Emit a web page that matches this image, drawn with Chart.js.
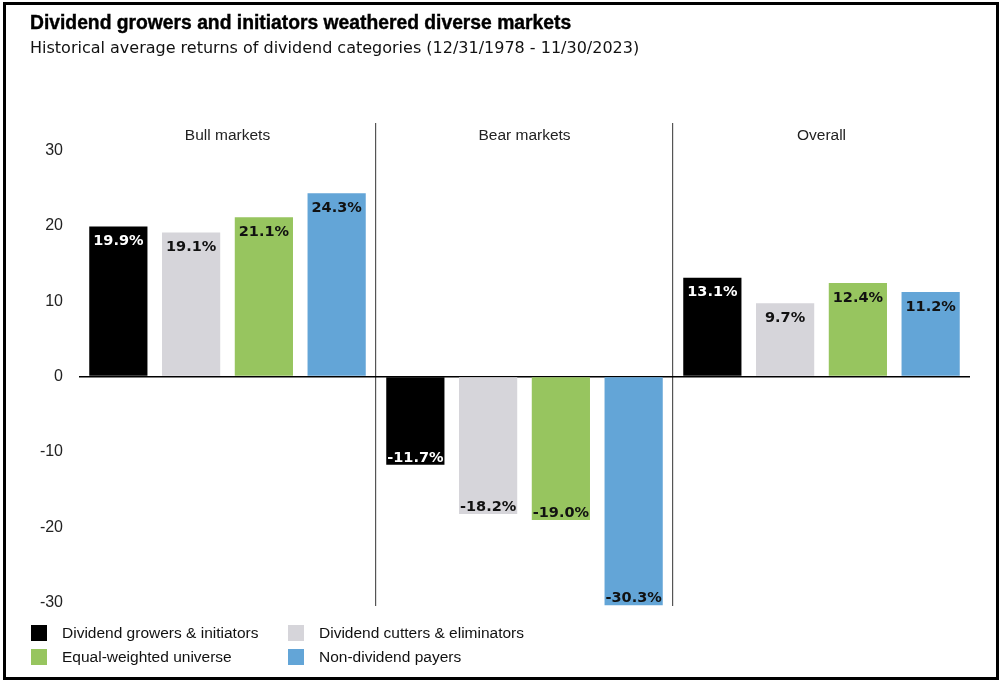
<!DOCTYPE html>
<html>
<head>
<meta charset="utf-8">
<script src="https://cdn.jsdelivr.net/npm/chart.js@4.4.1/dist/chart.umd.min.js"></script>
<style>
    body { margin: 0; background: #fff; font-family: "Liberation Sans", Arial, sans-serif; }
    #frame { position: absolute; left: 3px; top: 2px; width: 990px; height: 672px; border: 3px solid #000; }
    #titulo { position: absolute; left: 30px; top: 12px; font-size: 19.3px; font-weight: bold; color: #000; -webkit-text-stroke: 0.4px #000; }
    #subtitulo { position: absolute; left: 30px; top: 38px; font-size: 16px; font-family: "DejaVu Sans", sans-serif; color: #111; }
    #wrap { position: absolute; left: 0; top: 0; width: 1002px; height: 684px; }
    .leyenda { position: absolute; font-size: 15.5px; color: #111; }
    .leyenda span { position: absolute; left: 0; top: 1px; width: 16px; height: 16px; }
    .leyenda div { position: absolute; left: 31px; top: 0; white-space: nowrap; }
</style>
</head>
<body>
<div id="wrap"><canvas id="grafica"></canvas></div>
<div id="frame"></div>
<div id="titulo">Dividend growers and initiators weathered diverse markets</div>
<div id="subtitulo">Historical average returns of dividend categories (12/31/1978 - 11/30/2023)</div>
<div id="leyenda"></div>
<script>
"use strict"

const categorias = ["Bull markets", "Bear markets", "Overall"];
const series = ["Dividend growers & initiators", "Dividend cutters & eliminators", "Equal-weighted universe", "Non-dividend payers"];
const crecientes = [19.9, -11.7, 13.1];
const recortadores = [19.1, -18.2, 9.7];
const universo = [21.1, -19.0, 12.4];
const sinDividendo = [24.3, -30.3, 11.2];
const ticksY = [-30, -20, -10, 0, 10, 20, 30];

const colores = ["#000000", "#d6d5da", "#97c55f", "#63a5d7"];
const valores = [crecientes, recortadores, universo, sinDividendo];

// leyenda en html
const posLeyenda = [[31, 624], [288, 624], [31, 648], [288, 648]];
let leyendaHtml = "";
series.forEach((nombre, i) => {
    leyendaHtml += '<div class="leyenda" style="left:' + posLeyenda[i][0] + 'px;top:' + posLeyenda[i][1] + 'px">' +
        '<span style="background:' + colores[i] + '"></span><div>' + nombre + '</div></div>';
});
document.getElementById("leyenda").innerHTML = leyendaHtml;

const etiquetas = {
    id: "etiquetas",
    afterDatasetsDraw(chart) {
        let ctx = chart.ctx;
        ctx.save();
        ctx.font = "bold 14.5px 'DejaVu Sans', sans-serif";
        ctx.textAlign = "center";
        ctx.textBaseline = "middle";
        chart.data.datasets.forEach((ds, i) => {
            let meta = chart.getDatasetMeta(i);
            meta.data.forEach((barra, j) => {
                let v = ds.data[j];
                let y = v >= 0 ? barra.y + 15 : barra.y - 7;
                ctx.fillStyle = i == 0 ? "#ffffff" : "#111111";
                ctx.fillText(v.toFixed(1) + "%", barra.x, y);
            });
        });
        // nombres de grupo
        ctx.font = "15.5px 'Liberation Sans', sans-serif";
        ctx.fillStyle = "#222";
        let x = chart.scales.x;
        categorias.forEach((c, j) => {
            ctx.fillText(c, x.getPixelForValue(j), chart.chartArea.top + 13);
        });
        ctx.restore();
    }
};

let ctx = document.getElementById("grafica").getContext("2d");

new Chart(ctx, {
    type: "bar",
    data: {
        labels: categorias,
        datasets: series.map((nombre, i) => ({
            label: nombre,
            data: valores[i],
            backgroundColor: colores[i],
            categoryPercentage: 0.98,
            barPercentage: 0.8
        }))
    },
    options: {
        responsive: true,
        maintainAspectRatio: false,
        animation: false,
        layout: { padding: { top: 123, bottom: 78, right: 32, left: 0 } },
        plugins: { legend: { display: false }, tooltip: { enabled: false } },
        scales: {
            x: {
                ticks: { display: false },
                border: { display: false },
                grid: {
                    drawTicks: false,
                    lineWidth: 1.2,
                    color: c => (c.index === 1 || c.index === 2) ? "#555555" : "transparent"
                }
            },
            y: {
                min: -30.4,
                max: 33.6,
                afterBuildTicks: eje => { eje.ticks = ticksY.map(v => ({ value: v })); },
                afterFit: eje => { eje.width = 79; },
                border: { display: false },
                ticks: {
                    padding: 16,
                    color: "#222",
                    font: { size: 16, family: "'Liberation Sans', sans-serif" }
                },
                grid: {
                    drawTicks: false,
                    lineWidth: 1.5,
                    color: c => c.tick && c.tick.value === 0 ? "#000000" : "transparent"
                }
            }
        }
    },
    plugins: [etiquetas]
});
</script>
</body>
</html>
